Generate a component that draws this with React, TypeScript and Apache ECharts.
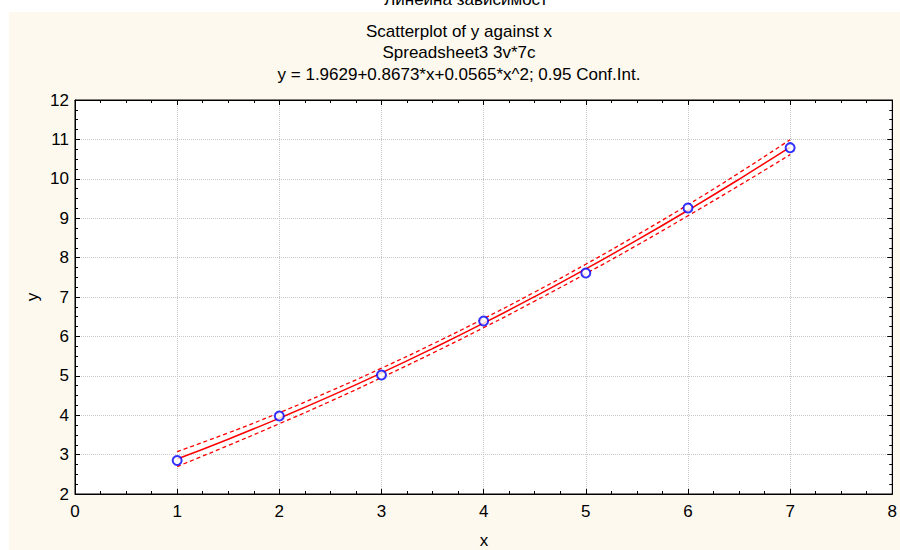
import React, { useEffect, useRef } from "react";
import * as echarts from "echarts";

// Observed data points
const pointX = [1, 2, 3, 4, 5, 6, 7];
const pointY = [2.85, 3.98, 5.02, 6.39, 7.61, 9.26, 10.79];

// Fitted curve (read at half-unit steps) and 0.95 confidence band
const fitX = [1, 1.5, 2, 2.5, 3, 3.5, 4, 4.5, 5, 5.5, 6, 6.5, 7];
const fitY = [2.887, 3.391, 3.924, 4.484, 5.073, 5.691, 6.336, 7.01, 7.712, 8.442, 9.201, 9.988, 10.803];
const upperY = [3.077, 3.551, 4.064, 4.614, 5.193, 5.806, 6.451, 7.125, 7.832, 8.572, 9.341, 10.148, 10.993];
const lowerY = [2.697, 3.231, 3.784, 4.354, 4.953, 5.576, 6.221, 6.895, 7.592, 8.312, 9.061, 9.828, 10.613];

const titleLines = [
  "Scatterplot of y against x",
  "Spreadsheet3 3v*7c",
  "y = 1.9629+0.8673*x+0.0565*x^2; 0.95 Conf.Int.",
];
const topTitle = "Линейна зависимост";

const FONT = "'Liberation Sans', Arial, sans-serif";

export default function App() {
  const ref = useRef<HTMLDivElement>(null);
  useEffect(() => {
    if (!ref.current) return;
    const chart = echarts.init(ref.current, null, { renderer: "svg" });
    const pair = (xs: number[], ys: number[]) => xs.map((x, i) => [x, ys[i]]);
    const axisCommon = {
      type: "value",
      min: 0,
      interval: 1,
      axisLine: { show: true, onZero: false, lineStyle: { color: "#000", width: 1 } },
      axisTick: { show: true, inside: true, length: 5, lineStyle: { color: "#000" } },
      minorTick: { show: true, splitNumber: 4, length: 3, lineStyle: { color: "#000" } },
    };
    chart.setOption({
      animation: false,
      backgroundColor: "transparent",
      textStyle: { fontFamily: FONT },
      graphic: [
        { type: "rect", z: -10, shape: { x: 9, y: 12, width: 891, height: 538 }, style: { fill: "#FDF9EE" } },
        { type: "text", x: 466, y: 8, style: { text: topTitle, font: `17px ${FONT}`, fill: "#000", align: "center", verticalAlign: "bottom" } },
        ...titleLines.map((t, i) => ({
          type: "text",
          x: 459,
          y: 31 + i * 21.5,
          style: { text: t, font: `17px ${FONT}`, fill: "#000", align: "center", verticalAlign: "middle" },
        })),
        { type: "text", x: 484, y: 540, style: { text: "x", font: `17px ${FONT}`, fill: "#000", align: "center", verticalAlign: "middle" } },
        { type: "text", x: 32, y: 297, rotation: Math.PI / 2, style: { text: "y", font: `17px ${FONT}`, fill: "#000", align: "center", verticalAlign: "middle" } },
      ],
      grid: {
        left: 75,
        right: 7,
        top: 100,
        bottom: 56,
        show: true,
        backgroundColor: "#fff",
        borderColor: "#000",
        borderWidth: 1,
      },
      xAxis: [
        {
          ...axisCommon,
          max: 8,
          position: "bottom",
          axisLabel: { show: true, color: "#000", fontSize: 17, margin: 9, fontFamily: FONT },
          splitLine: { show: true, lineStyle: { color: "#c8c8c8", type: "dotted" } },
        },
        {
          ...axisCommon,
          max: 8,
          position: "top",
          axisLabel: { show: false },
          splitLine: { show: false },
        },
      ],
      yAxis: [
        {
          ...axisCommon,
          min: 2,
          max: 12,
          position: "left",
          axisLabel: { show: true, color: "#000", fontSize: 17, margin: 6, fontFamily: FONT },
          splitLine: { show: true, lineStyle: { color: "#c8c8c8", type: "dotted" } },
        },
        {
          ...axisCommon,
          min: 2,
          max: 12,
          position: "right",
          axisLabel: { show: false },
          splitLine: { show: false },
        },
      ],
      series: [
        {
          type: "line",
          data: pair(fitX, upperY),
          smooth: true,
          showSymbol: false,
          lineStyle: { color: "#ff0000", width: 1.3, type: [4, 3] },
        },
        {
          type: "line",
          data: pair(fitX, lowerY),
          smooth: true,
          showSymbol: false,
          lineStyle: { color: "#ff0000", width: 1.3, type: [4, 3] },
        },
        {
          type: "line",
          data: pair(fitX, fitY),
          smooth: true,
          showSymbol: false,
          lineStyle: { color: "#ff0000", width: 1.5 },
        },
        {
          type: "scatter",
          data: pair(pointX, pointY),
          symbol: "emptyCircle",
          symbolSize: 9,
          itemStyle: { color: "#0000ff", borderColor: "#0000ff", borderWidth: 1.5 },
          z: 5,
        },
      ],
    });
    return () => chart.dispose();
  }, []);
  return (
    <div
      ref={ref}
      style={{ position: "absolute", left: 0, top: 0, width: 900, height: 550 }}
    />
  );
}
